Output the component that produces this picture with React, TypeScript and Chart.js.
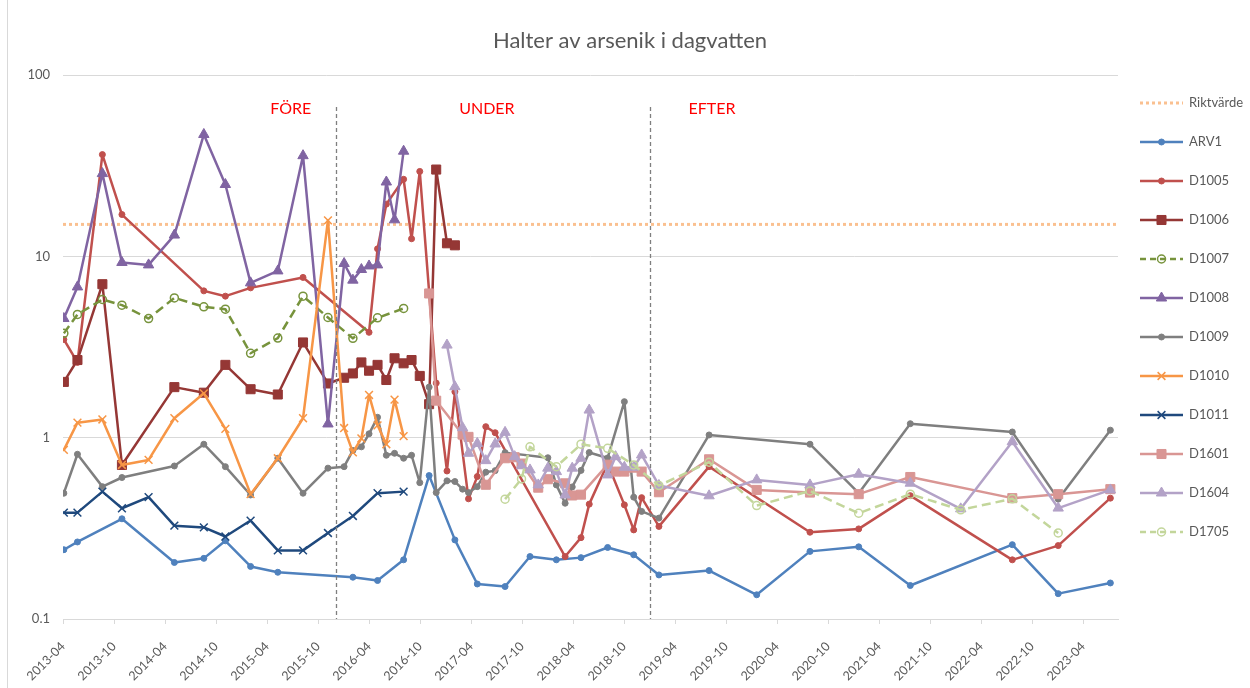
import React, { useEffect, useRef } from "react";
import { Chart, registerables } from "chart.js";

Chart.register(...registerables);

type Pt = [string, number];

const TITLE = "Halter av arsenik i dagvatten";
const RIKTVARDE = 15;
const Y_TICKS = [0.1, 1, 10, 100];
const X_TICK_LABELS = [
  "2013-04", "2013-10", "2014-04", "2014-10", "2015-04", "2015-10", "2016-04",
  "2016-10", "2017-04", "2017-10", "2018-04", "2018-10", "2019-04", "2019-10",
  "2020-04", "2020-10", "2021-04", "2021-10", "2022-04", "2022-10", "2023-04",
];
const AXIS_START = "2013-04-01";
const AXIS_END = "2023-08-04";
const PERIOD_BOUNDARIES = ["2015-12-05", "2019-01-01"];
const PERIOD_LABELS: [string, string][] = [
  ["FÖRE", "2015-06-25"],
  ["UNDER", "2017-05-27"],
  ["EFTER", "2019-08-11"],
];

const ARV1: Pt[] = [
  ["2013-04-04", 0.241], ["2013-05-22", 0.266], ["2013-10-29", 0.357], ["2014-05-04", 0.205],
  ["2014-08-18", 0.216], ["2014-11-04", 0.27], ["2015-02-03", 0.195], ["2015-05-09", 0.181],
  ["2016-02-04", 0.17], ["2016-05-01", 0.163], ["2016-08-03", 0.212], ["2016-11-03", 0.618],
  ["2017-02-04", 0.273], ["2017-04-23", 0.156], ["2017-08-01", 0.151], ["2017-10-29", 0.221],
  ["2018-02-02", 0.212], ["2018-04-29", 0.218], ["2018-08-03", 0.248], ["2018-11-05", 0.226],
  ["2019-02-04", 0.175], ["2019-08-01", 0.185], ["2020-01-19", 0.136], ["2020-07-27", 0.236],
  ["2021-01-19", 0.25], ["2021-07-21", 0.153], ["2022-07-21", 0.257], ["2023-01-03", 0.138],
  ["2023-07-07", 0.158],
];

const D1005: Pt[] = [
  ["2013-04-04", 3.48], ["2013-05-22", 2.6], ["2013-08-20", 36.4], ["2013-10-29", 17.0],
  ["2014-08-18", 6.45], ["2014-11-04", 6.03], ["2015-02-03", 6.7], ["2015-08-08", 7.65],
  ["2016-04-01", 3.81], ["2016-05-01", 11.0], ["2016-06-02", 19.4], ["2016-08-03", 26.6],
  ["2016-08-31", 12.5], ["2016-09-30", 29.4], ["2016-11-28", 2.0], ["2017-01-06", 0.655],
  ["2017-02-04", 1.79], ["2017-03-22", 0.46], ["2017-04-23", 0.61], ["2017-05-23", 1.15],
  ["2017-06-26", 1.065], ["2018-03-03", 0.221], ["2018-04-29", 0.281], ["2018-05-28", 0.43],
  ["2018-08-03", 0.72], ["2018-10-02", 0.426], ["2018-11-05", 0.31], ["2018-12-03", 0.467],
  ["2019-02-04", 0.324], ["2019-08-01", 0.692], ["2020-07-27", 0.301], ["2021-01-19", 0.314],
  ["2021-07-21", 0.479], ["2022-07-21", 0.212], ["2023-01-03", 0.254], ["2023-07-07", 0.464],
];

const D1006: Pt[] = [
  ["2013-04-04", 2.03], ["2013-05-22", 2.68], ["2013-08-20", 7.02], ["2013-10-29", 0.707],
  ["2014-05-04", 1.9], ["2014-08-18", 1.77], ["2014-11-04", 2.52], ["2015-02-03", 1.85],
  ["2015-05-09", 1.73], ["2015-08-08", 3.35], ["2015-11-06", 1.99], ["2016-01-03", 2.14],
  ["2016-02-04", 2.26], ["2016-03-04", 2.6], ["2016-04-01", 2.34], ["2016-05-01", 2.52],
  ["2016-06-02", 2.08], ["2016-07-01", 2.74], ["2016-08-03", 2.57], ["2016-08-31", 2.68],
  ["2016-09-30", 2.19], ["2016-11-03", 1.53], ["2016-11-28", 30.1], ["2017-01-06", 11.8],
  ["2017-02-04", 11.5],
];

const D1007: Pt[] = [
  ["2013-04-04", 3.76], ["2013-05-22", 4.78], ["2013-08-20", 5.78], ["2013-10-29", 5.38],
  ["2014-02-03", 4.54], ["2014-05-04", 5.9], ["2014-08-18", 5.27], ["2014-11-04", 5.11],
  ["2015-02-03", 2.92], ["2015-05-09", 3.54], ["2015-08-08", 6.03], ["2015-11-06", 4.6],
  ["2016-02-04", 3.53], ["2016-05-01", 4.58], ["2016-08-03", 5.16],
];

const D1008: Pt[] = [
  ["2013-04-04", 4.54], ["2013-05-22", 6.78], ["2013-08-20", 28.6], ["2013-10-29", 9.25],
  ["2014-02-03", 8.97], ["2014-05-04", 13.1], ["2014-08-18", 47], ["2014-11-04", 24.9],
  ["2015-02-03", 7.14], ["2015-05-09", 8.31], ["2015-08-08", 35.9], ["2015-11-06", 1.19],
  ["2016-01-03", 9.13], ["2016-02-04", 7.39], ["2016-03-04", 8.46], ["2016-04-01", 8.85],
  ["2016-05-01", 8.97], ["2016-06-02", 25.7], ["2016-07-01", 15.9], ["2016-08-03", 38.0],
];

const D1009: Pt[] = [
  ["2013-04-04", 0.494], ["2013-05-22", 0.81], ["2013-08-20", 0.537], ["2013-10-29", 0.603],
  ["2014-05-04", 0.698], ["2014-08-18", 0.92], ["2014-11-04", 0.692], ["2015-02-03", 0.483],
  ["2015-05-09", 0.77], ["2015-08-08", 0.494], ["2015-11-06", 0.679], ["2016-01-03", 0.692],
  ["2016-02-04", 0.85], ["2016-03-04", 0.89], ["2016-04-01", 1.05], ["2016-05-01", 1.295],
  ["2016-06-02", 0.8], ["2016-07-01", 0.82], ["2016-08-03", 0.77], ["2016-08-31", 0.8],
  ["2016-09-30", 0.565], ["2016-11-03", 1.9], ["2016-11-28", 0.498], ["2017-01-06", 0.578],
  ["2017-02-04", 0.573], ["2017-03-01", 0.52], ["2017-03-22", 0.498], ["2017-04-23", 0.537],
  ["2017-05-23", 0.645], ["2017-06-26", 0.658], ["2017-08-01", 0.827], ["2018-01-02", 0.775],
  ["2018-02-02", 0.549], ["2018-03-03", 0.435], ["2018-03-28", 0.535], ["2018-04-29", 0.66],
  ["2018-05-28", 0.828], ["2018-08-03", 0.773], ["2018-10-02", 1.58], ["2018-11-05", 0.47],
  ["2018-12-03", 0.392], ["2019-02-04", 0.36], ["2019-08-01", 1.035], ["2020-07-27", 0.92],
  ["2021-01-19", 0.494], ["2021-07-21", 1.194], ["2022-07-21", 1.075], ["2023-01-03", 0.458],
  ["2023-07-07", 1.1],
];

const D1010: Pt[] = [
  ["2013-04-04", 0.856], ["2013-05-22", 1.21], ["2013-08-20", 1.26], ["2013-10-29", 0.707],
  ["2014-02-03", 0.754], ["2014-05-04", 1.28], ["2014-08-18", 1.756], ["2014-11-04", 1.117],
  ["2015-02-03", 0.488], ["2015-05-09", 0.77], ["2015-08-08", 1.28], ["2015-11-06", 15.8],
  ["2016-01-03", 1.13], ["2016-02-04", 0.83], ["2016-03-04", 0.99], ["2016-04-01", 1.72],
  ["2016-05-01", 1.17], ["2016-06-02", 0.92], ["2016-07-01", 1.62], ["2016-08-03", 1.02],
];

const D1011: Pt[] = [
  ["2013-04-04", 0.386], ["2013-05-22", 0.386], ["2013-08-20", 0.504], ["2013-10-29", 0.408],
  ["2014-02-03", 0.47], ["2014-05-04", 0.327], ["2014-08-18", 0.32], ["2014-11-04", 0.285],
  ["2015-02-03", 0.349], ["2015-05-09", 0.239], ["2015-08-08", 0.239], ["2015-11-06", 0.298],
  ["2016-02-04", 0.37], ["2016-05-01", 0.494], ["2016-08-03", 0.504],
];

const D1601: Pt[] = [
  ["2016-11-03", 6.24], ["2016-11-28", 1.6], ["2017-03-01", 1.04], ["2017-03-22", 1.01],
  ["2017-05-23", 0.55], ["2017-08-01", 0.77], ["2017-09-05", 0.78], ["2017-09-29", 0.72],
  ["2017-11-28", 0.53], ["2018-01-02", 0.59], ["2018-03-03", 0.56], ["2018-03-28", 0.48],
  ["2018-04-29", 0.485], ["2018-08-03", 0.71], ["2018-09-01", 0.65], ["2018-10-02", 0.65],
  ["2018-12-03", 0.65], ["2019-02-04", 0.5], ["2019-08-01", 0.76], ["2020-01-19", 0.515],
  ["2020-07-27", 0.498], ["2021-01-19", 0.488], ["2021-07-21", 0.607], ["2022-07-21", 0.464],
  ["2023-01-03", 0.488], ["2023-07-07", 0.52],
];

const D1604: Pt[] = [
  ["2017-01-06", 3.24], ["2017-02-04", 1.91], ["2017-03-01", 1.135], ["2017-03-22", 0.82],
  ["2017-04-23", 0.93], ["2017-05-23", 0.747], ["2017-06-26", 0.923], ["2017-08-01", 1.07],
  ["2017-09-05", 0.786], ["2017-09-29", 0.7], ["2017-10-29", 0.664], ["2017-11-28", 0.549],
  ["2018-01-02", 0.679], ["2018-02-02", 0.65], ["2018-03-03", 0.483], ["2018-03-28", 0.679],
  ["2018-04-29", 0.77], ["2018-05-28", 1.42], ["2018-08-03", 0.623], ["2018-09-01", 0.786],
  ["2018-10-02", 0.687], ["2018-11-05", 0.687], ["2018-12-03", 0.803], ["2019-02-04", 0.545],
  ["2019-08-01", 0.478], ["2020-01-19", 0.585], ["2020-07-27", 0.549], ["2021-01-19", 0.629],
  ["2021-07-21", 0.561], ["2022-01-19", 0.405], ["2022-07-21", 0.95], ["2023-01-03", 0.409],
  ["2023-07-07", 0.515],
];

const D1705: Pt[] = [
  ["2017-08-01", 0.458], ["2017-09-29", 0.592], ["2017-10-29", 0.89], ["2018-02-02", 0.692],
  ["2018-04-29", 0.92], ["2018-08-03", 0.874], ["2018-11-05", 0.707], ["2019-02-04", 0.544],
  ["2019-08-01", 0.732], ["2020-01-19", 0.422], ["2020-07-27", 0.508], ["2021-01-19", 0.383],
  ["2021-07-21", 0.488], ["2022-01-19", 0.4], ["2022-07-21", 0.46], ["2023-01-03", 0.298],
];

type Marker = "circle" | "rect" | "triangle" | "crossRot";
interface SeriesDef {
  label: string;
  data: Pt[];
  color: string;
  marker: Marker;
  radius: number;
  hollow?: boolean;
  dashed?: boolean;
}

const SERIES: SeriesDef[] = [
  { label: "ARV1", data: ARV1, color: "#4F81BD", marker: "circle", radius: 3 },
  { label: "D1005", data: D1005, color: "#C0504D", marker: "circle", radius: 3 },
  { label: "D1006", data: D1006, color: "#953735", marker: "rect", radius: 6.4 },
  { label: "D1007", data: D1007, color: "#77933C", marker: "circle", radius: 4, hollow: true, dashed: true },
  { label: "D1008", data: D1008, color: "#8064A2", marker: "triangle", radius: 6 },
  { label: "D1009", data: D1009, color: "#7F7F7F", marker: "circle", radius: 3 },
  { label: "D1010", data: D1010, color: "#F79646", marker: "crossRot", radius: 5.5 },
  { label: "D1011", data: D1011, color: "#1F497D", marker: "crossRot", radius: 5.5 },
  { label: "D1601", data: D1601, color: "#D99694", marker: "rect", radius: 6.4 },
  { label: "D1604", data: D1604, color: "#B3A2C7", marker: "triangle", radius: 6 },
  { label: "D1705", data: D1705, color: "#C3D69B", marker: "circle", radius: 4, hollow: true, dashed: true },
];

const RIKT_COLOR = "#FAC090";
const TEXT_COLOR = "#595959";
const GRID_COLOR = "#D9D9D9";
const FONT = "Lato, 'Open Sans', sans-serif";
const LINE_W = 2.5;
const DASH = [9, 5];
const RIKT_DASH = [3, 3];

function toMonths(d: string): number {
  const [y, m, day] = d.split("-").map(Number);
  return (y - 2013) * 12 + (m - 4) + ((day || 1) - 1) / 30;
}

function drawMarker(ctx: CanvasRenderingContext2D, s: SeriesDef, x: number, y: number) {
  const r = s.radius;
  ctx.save();
  ctx.strokeStyle = s.color;
  ctx.fillStyle = s.hollow ? "rgba(0,0,0,0)" : s.color;
  ctx.lineWidth = s.marker === "crossRot" || s.hollow ? 1.5 : 1;
  ctx.setLineDash([]);
  ctx.beginPath();
  if (s.marker === "circle") {
    ctx.arc(x, y, r, 0, Math.PI * 2);
    if (!s.hollow) ctx.fill();
    ctx.stroke();
  } else if (s.marker === "rect") {
    const h = r * Math.SQRT1_2;
    ctx.rect(x - h, y - h, 2 * h, 2 * h);
    ctx.fill();
    ctx.stroke();
  } else if (s.marker === "triangle") {
    for (let i = 0; i < 3; i++) {
      const a = (i * 2 * Math.PI) / 3;
      const px = x + Math.sin(a) * r;
      const py = y - Math.cos(a) * r;
      if (i === 0) ctx.moveTo(px, py);
      else ctx.lineTo(px, py);
    }
    ctx.closePath();
    ctx.fill();
    ctx.stroke();
  } else {
    const o = r * Math.SQRT1_2;
    ctx.moveTo(x - o, y - o);
    ctx.lineTo(x + o, y + o);
    ctx.moveTo(x - o, y + o);
    ctx.lineTo(x + o, y - o);
    ctx.stroke();
  }
  ctx.restore();
}

const decorPlugin = {
  id: "decor",
  afterDatasetsDraw(chart: any) {
    const { ctx, chartArea, scales } = chart;
    ctx.save();
    ctx.strokeStyle = "#7F7F7F";
    ctx.lineWidth = 1.3;
    ctx.setLineDash([4, 3]);
    for (const d of PERIOD_BOUNDARIES) {
      const x = Math.round(scales.x.getPixelForValue(toMonths(d))) + 0.5;
      ctx.beginPath();
      ctx.moveTo(x, chartArea.top + 32);
      ctx.lineTo(x, chartArea.bottom);
      ctx.stroke();
    }
    ctx.restore();
  },
  afterDraw(chart: any) {
    const { ctx, scales, chartArea } = chart;
    ctx.save();
    ctx.strokeStyle = GRID_COLOR;
    ctx.lineWidth = 1;
    ctx.beginPath();
    ctx.moveTo(7.5, 0);
    ctx.lineTo(7.5, chart.height);
    ctx.stroke();

    ctx.fillStyle = TEXT_COLOR;
    ctx.font = `22px ${FONT}`;
    ctx.textAlign = "center";
    ctx.textBaseline = "middle";
    ctx.fillText(TITLE, 630, 41);

    ctx.fillStyle = "#FF0000";
    ctx.font = `16px ${FONT}`;
    for (const [text, d] of PERIOD_LABELS) {
      const x = scales.x.getPixelForValue(toMonths(d));
      ctx.fillText(text, x, chartArea.top + 34);
    }

    const lx0 = 1140;
    const lx1 = 1183;
    const ly0 = 103;
    const step = 39;
    ctx.font = `13px ${FONT}`;
    ctx.textAlign = "left";
    ctx.textBaseline = "middle";
    ctx.strokeStyle = RIKT_COLOR;
    ctx.lineWidth = 3;
    ctx.setLineDash(RIKT_DASH);
    ctx.beginPath();
    ctx.moveTo(lx0, ly0);
    ctx.lineTo(lx1, ly0);
    ctx.stroke();
    ctx.setLineDash([]);
    ctx.fillStyle = TEXT_COLOR;
    ctx.fillText("Riktvärde", 1189, ly0);
    SERIES.forEach((s, i) => {
      const y = ly0 + step * (i + 1);
      ctx.strokeStyle = s.color;
      ctx.lineWidth = LINE_W;
      ctx.setLineDash(s.dashed ? [6, 4] : []);
      ctx.beginPath();
      ctx.moveTo(lx0, y);
      ctx.lineTo(lx1, y);
      ctx.stroke();
      ctx.setLineDash([]);
      drawMarker(ctx, s, (lx0 + lx1) / 2, y);
      ctx.fillStyle = TEXT_COLOR;
      ctx.fillText(s.label, 1189, y);
    });
    ctx.restore();
  },
};

export default function App() {
  const ref = useRef<HTMLCanvasElement | null>(null);

  useEffect(() => {
    if (!ref.current) return;
    Chart.defaults.font.family = FONT;
    const xMin = toMonths(AXIS_START);
    const xMax = toMonths(AXIS_END);
    const tickValues = X_TICK_LABELS.map((l) => toMonths(l + "-01"));
    const n = SERIES.length + 1;

    const datasets: any[] = [
      {
        label: "Riktvärde",
        data: [
          { x: xMin, y: RIKTVARDE },
          { x: xMax, y: RIKTVARDE },
        ],
        borderColor: RIKT_COLOR,
        borderWidth: 3,
        borderDash: RIKT_DASH,
        pointRadius: 0,
        order: n,
      },
      ...SERIES.map((s, i) => ({
        label: s.label,
        data: s.data.map(([d, v]) => ({ x: toMonths(d), y: v })),
        borderColor: s.color,
        backgroundColor: s.color,
        borderWidth: LINE_W,
        borderDash: s.dashed ? DASH : [],
        borderJoinStyle: "round",
        pointStyle: s.marker,
        pointRadius: s.radius,
        pointBackgroundColor: s.hollow ? "rgba(0,0,0,0)" : s.color,
        pointBorderColor: s.color,
        pointBorderWidth: s.marker === "crossRot" || s.hollow ? 1.5 : 1,
        tension: 0,
        order: n - 1 - i,
      })),
    ];

    const chart = new Chart(ref.current, {
      type: "line",
      data: { datasets },
      options: {
        responsive: false,
        animation: false,
        layout: { padding: { left: 0, right: 132, top: 75, bottom: 0 } },
        plugins: {
          legend: { display: false },
          title: { display: false },
          tooltip: { enabled: false },
        },
        scales: {
          x: {
            type: "linear",
            min: xMin,
            max: xMax,
            afterBuildTicks: (s: any) => {
              s.ticks = tickValues.map((v) => ({ value: v }));
            },
            afterFit: (s: any) => {
              s.height = 69;
            },
            grid: {
              drawOnChartArea: false,
              drawTicks: true,
              tickLength: 5,
              color: GRID_COLOR,
            },
            border: { display: true, color: GRID_COLOR, width: 1 },
            ticks: {
              autoSkip: false,
              maxRotation: 45,
              minRotation: 45,
              padding: 15,
              color: TEXT_COLOR,
              font: { size: 12.5, family: FONT },
              callback: (_v: any, i: number) => X_TICK_LABELS[i],
            },
          },
          y: {
            type: "logarithmic",
            min: 0.1,
            max: 100,
            afterBuildTicks: (s: any) => {
              s.ticks = Y_TICKS.map((v) => ({ value: v }));
            },
            afterFit: (s: any) => {
              s.width = 63;
            },
            grid: { color: GRID_COLOR, drawTicks: false },
            border: { display: false },
            ticks: {
              padding: 13,
              color: TEXT_COLOR,
              font: { size: 13, family: FONT },
              callback: (v: any) => String(v),
            },
          },
        },
      } as any,
      plugins: [decorPlugin],
    });
    return () => chart.destroy();
  }, []);

  return (
    <div style={{ position: "absolute", left: 0, top: 0, width: 1250, height: 688, background: "#fff" }}>
      <canvas ref={ref} width={1250} height={688} style={{ display: "block" }} />
    </div>
  );
}
